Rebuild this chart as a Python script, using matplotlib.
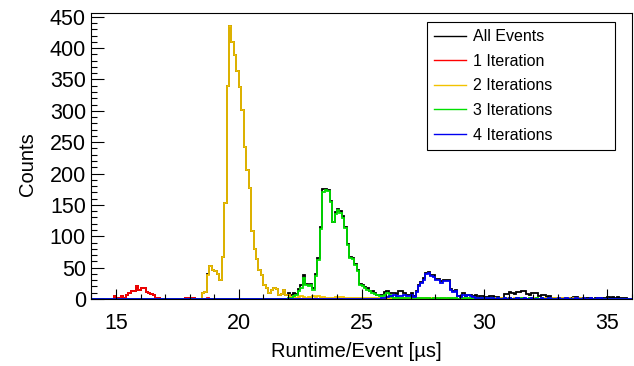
import numpy as np
import matplotlib
matplotlib.use("Agg")
import matplotlib.pyplot as plt
from matplotlib.lines import Line2D
from matplotlib.ticker import MultipleLocator

plt.rcParams['font.family'] = ['Liberation Sans', 'DejaVu Sans']

# histogram binning (µs)
x_min = 14.0
x_max = 36.0
bin_width = 0.1

# 1 Iteration, first bin starts at 14.9
red_start = 14.9
red_counts = [5, 2, 1, 5, 2, 7, 9, 13, 13, 20, 15, 17, 17, 11, 9, 8, 6, 2, 2,
              0, 0, 0, 0, 0, 0, 0, 0, 0, 0, 2, 1, 2, 2, 0, 0, 0, 0, 0, 2]

# 2 Iterations, first bin starts at 18.5
yellow_start = 18.5
yellow_counts = [9, 11, 38, 53, 47, 45, 40, 30, 67, 153, 340, 435, 410, 389, 363,
                 338, 301, 243, 206, 177, 109, 79, 63, 46, 38, 22, 17, 9, 15, 17,
                 16, 6, 8, 15, 6, 7, 3, 5, 2, 3, 4, 3, 1, 3, 2, 4, 3, 4, 2, 3,
                 1, 2, 2, 1, 3, 2, 3, 3, 1, 2, 1, 2, 1, 2, 2, 1, 2, 2, 1, 2,
                 2, 1, 2, 1, 2, 1, 0, 1, 1, 0, 1, 2, 1, 1, 0, 2, 1, 0, 1, 1,
                 0, 1, 0, 1, 2, 1, 1, 2, 1, 0, 1, 1, 0, 1, 0, 1, 2, 1, 0, 1,
                 0, 1, 0, 0, 1, 0, 1, 0, 1, 1, 0, 1, 0, 0, 1, 0, 0, 1, 0, 1,
                 1, 0, 0, 1, 0, 1, 1, 0, 1, 1, 0, 1, 0, 1, 1, 0, 1, 0, 1, 1,
                 0, 1, 1, 0, 1, 1]

# 3 Iterations, first bin starts at 22.0
green_start = 22.0
green_counts = [1, 2, 4, 6, 13, 17, 33, 22, 20, 22, 14, 37, 62, 111, 171, 173, 172,
                155, 122, 135, 142, 137, 129, 113, 86, 66, 63, 54, 44, 22, 21, 17,
                15, 12, 10, 8, 6, 5, 4, 7, 9, 6, 3, 2, 3, 2, 1, 2, 1, 2, 1, 1,
                2, 1, 1, 2, 1, 1, 0, 1, 1, 0, 1, 1, 2, 1, 0, 1, 1, 0, 1, 1,
                0, 1, 0, 1, 1, 0, 1, 0, 1, 0, 1, 1, 0, 1, 0, 0, 1, 0, 1, 0,
                0, 1, 0, 1, 0, 0, 1, 0, 0, 1, 0, 1, 0, 0, 1]

# 4 Iterations, first bin starts at 25.8
blue_start = 25.8
blue_counts = [1, 2, 3, 4, 5, 6, 4, 5, 5, 6, 5, 4, 6, 3, 11, 20, 25, 31, 40, 42,
               37, 35, 30, 31, 26, 29, 28, 29, 15, 11, 13, 4, 3, 6, 4, 6, 5, 3,
               2, 1, 2, 1, 1, 0, 1, 1, 0, 1, 0, 0, 1, 0, 1, 0, 0, 1, 0, 0,
               1, 0, 0, 1, 0, 0, 0, 1, 0, 0, 1, 0, 0, 0, 1, 0, 0, 1, 0, 0,
               0, 1, 0, 0, 1, 0, 0, 1, 0, 0, 1, 1]

# events with more iterations, only seen in the "All Events" curve
extra_start = 22.0
extra_counts = [1, 2, 1, 0, 0, 1, 2, 1, 0, 0, 0, 0, 0, 1, 2, 2, 0, 0, 0, 0,
                0, 0, 0, 0, 0, 0, 0, 0, 0, 0, 0, 0, 0, 0, 0, 0, 0, 0, 0, 0,
                0, 0, 0, 0, 1, 5, 4, 1, 0, 0, 0, 0, 0, 0, 0, 0, 0, 0, 0, 0,
                0, 0, 0, 0, 0, 0, 0, 0, 0, 0, 0, 0, 0, 0, 1, 1, 2, 1, 1, 2,
                1, 2, 2, 1, 2, 1, 1, 2, 6, 7, 9, 10, 7, 9, 10, 11, 12, 8, 5, 8,
                8, 7, 5, 4, 5, 3, 2, 1, 1, 0, 1, 1, 0, 0, 1, 2, 2, 1, 2, 1,
                0, 1, 1, 0, 0, 1, 0, 0, 1, 2, 3, 2, 3, 2, 3, 2, 2, 1]

labels = ['All Events', '1 Iteration', '2 Iterations', '3 Iterations', '4 Iterations']
colors = ['black', '#ff0000', '#f2c200', '#00e000', '#0000f0']

edges = np.round(np.arange(x_min, x_max + bin_width / 2, bin_width), 2)
n_bins = len(edges) - 1


def to_hist(start, counts):
    h = np.zeros(n_bins)
    i = int(round((start - x_min) / bin_width))
    h[i:i + len(counts)] = counts[:n_bins - i]
    return h


red = to_hist(red_start, red_counts)
yellow = to_hist(yellow_start, yellow_counts)
green = to_hist(green_start, green_counts)
blue = to_hist(blue_start, blue_counts)
total = red + yellow + green + blue + to_hist(extra_start, extra_counts)

fig = plt.figure(figsize=(6.34, 3.66), dpi=100)
ax = fig.add_axes([0.1443, 0.1831, 0.852, 0.7814])

for h, c in zip([total, red, yellow, green, blue], colors):
    ax.stairs(h, edges, color=c, linewidth=1.3)

ax.set_xlim(x_min, x_max)
ax.set_ylim(0, 456)

ax.xaxis.set_major_locator(MultipleLocator(5))
ax.xaxis.set_minor_locator(MultipleLocator(1))
ax.yaxis.set_major_locator(MultipleLocator(50))
ax.yaxis.set_minor_locator(MultipleLocator(10))
ax.tick_params(axis='both', which='both', direction='in', colors='black', width=0.8,
               labelsize=15.5)
ax.tick_params(axis='x', which='major', length=7, pad=10)
ax.tick_params(axis='x', which='minor', length=3.5)
ax.tick_params(axis='y', which='major', length=9.5, pad=4)
ax.tick_params(axis='y', which='minor', length=4.5)
for s in ax.spines.values():
    s.set_linewidth(0.8)

ax.set_xlabel("Runtime/Event [µs]", fontsize=14.5)
ax.set_ylabel("Counts", fontsize=14.5)
ax.xaxis.set_label_coords(0.49, -0.15)
ax.yaxis.set_label_coords(-0.101, 0.47)

handles = [Line2D([], [], color=c, linewidth=1.0) for c in colors]
leg = ax.legend(handles, labels, loc='upper left', mode='expand',
                bbox_to_anchor=(0.621, 0.5, 0.348, 0.4685),
                fontsize=11.5, frameon=True, fancybox=False, edgecolor='black',
                framealpha=1, handlelength=2.0, handletextpad=0.45,
                labelspacing=0.6, borderpad=0.45, borderaxespad=0)
leg.get_frame().set_linewidth(0.8)

fig.savefig("out.png", dpi=100)
